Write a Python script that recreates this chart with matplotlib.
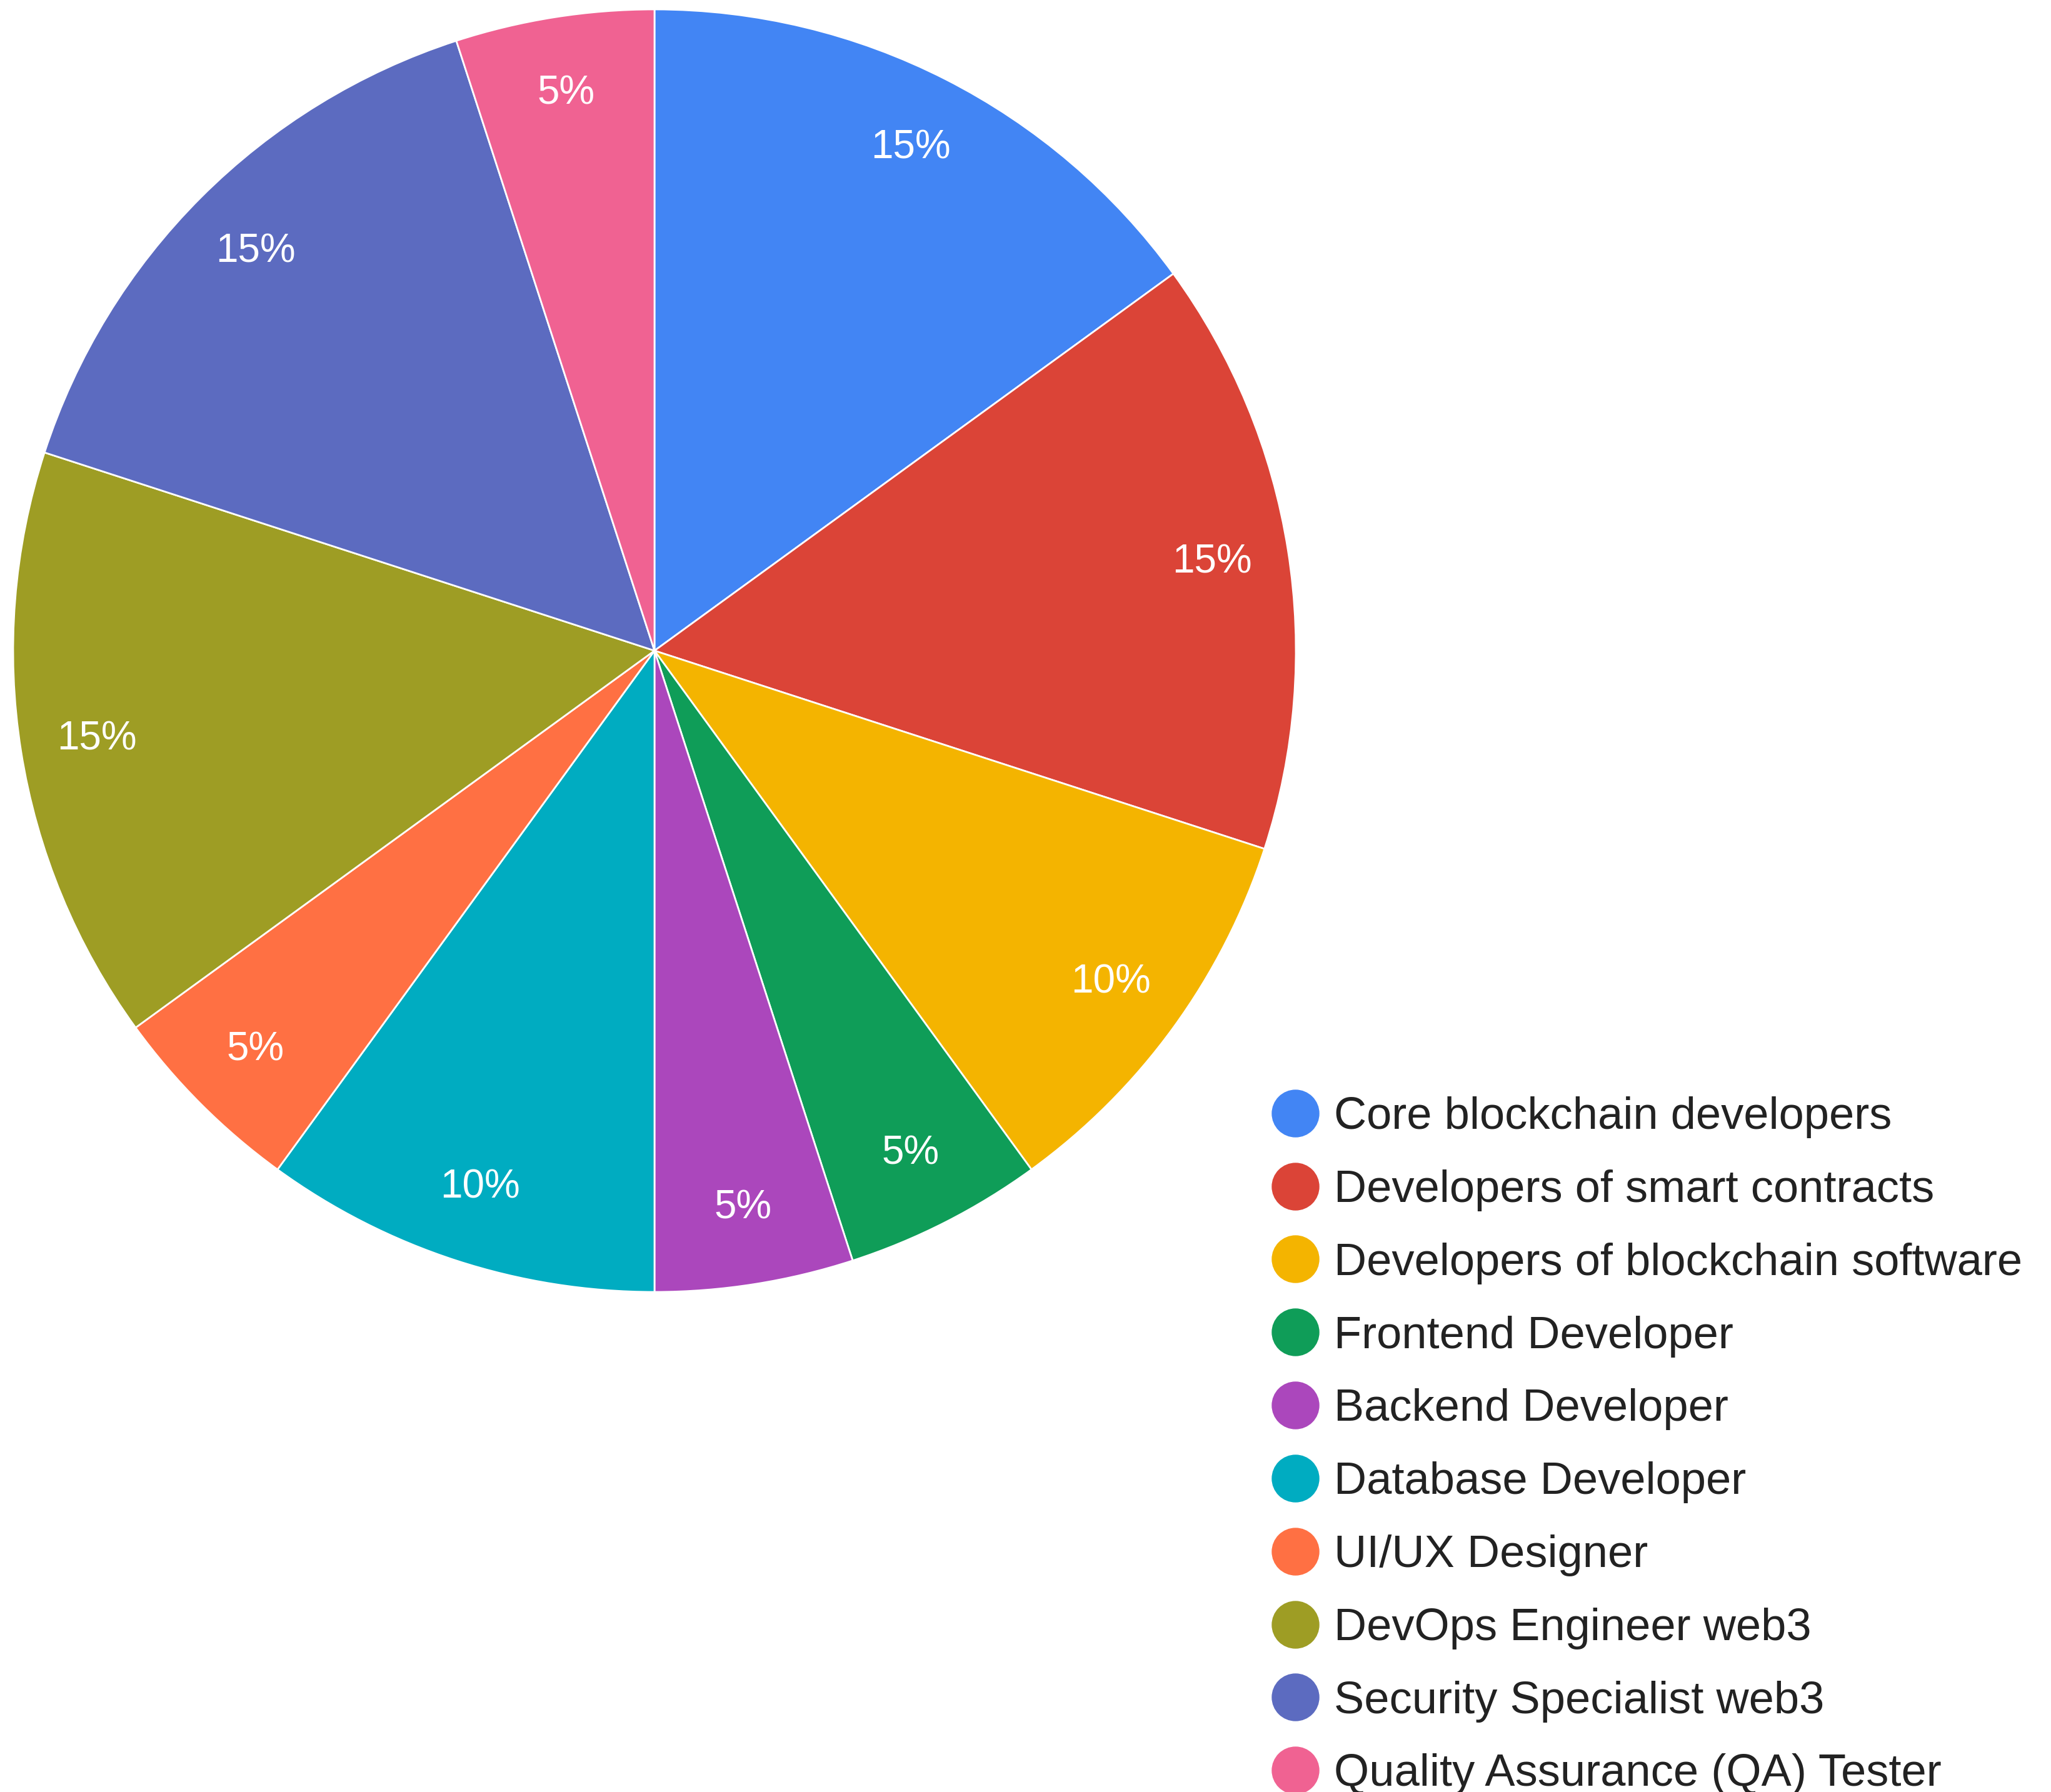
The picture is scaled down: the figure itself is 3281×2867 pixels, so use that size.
import matplotlib
matplotlib.use("Agg")
import matplotlib.pyplot as plt
from matplotlib.lines import Line2D

roles = [
    "Core blockchain developers",
    "Developers of smart contracts",
    "Developers of blockchain software",
    "Frontend Developer",
    "Backend Developer",
    "Database Developer",
    "UI/UX Designer",
    "DevOps Engineer web3",
    "Security Specialist web3",
    "Quality Assurance (QA) Tester",
]
shares = [15, 15, 10, 5, 5, 10, 5, 15, 15, 5]
colors = ["#4285F4", "#DB4437", "#F4B400", "#0F9D58", "#AB47BC",
          "#00ACC1", "#FF7043", "#9E9D24", "#5C6BC0", "#F06292"]

plt.rcParams['font.family'] = ['Liberation Sans', 'DejaVu Sans']

W, H = 3281, 2867
fig = plt.figure(figsize=(W / 100, H / 100), dpi=100)

# pie centre and radius in pixels
cx, cy, r = 1047, 1041, 1026
ax = fig.add_axes([(cx - r) / W, (H - cy - r) / H, 2 * r / W, 2 * r / H])
wedges, texts, autotexts = ax.pie(
    shares, colors=colors, startangle=90, counterclock=False,
    autopct='%d%%', pctdistance=0.88, radius=1,
    wedgeprops=dict(edgecolor='white', linewidth=2),
    textprops=dict(color='white', fontsize=46),
)
ax.set_xlim(-1, 1)
ax.set_ylim(-1, 1)
ax.set_aspect('equal')
ax.axis('off')

handles = [Line2D([], [], marker='o', linestyle='none', markersize=54,
                  markerfacecolor=c, markeredgecolor=c) for c in colors]
fig.legend(handles, roles, loc='upper left',
           bbox_to_anchor=(2034 / W, 1 - 1754 / H),
           frameon=False, fontsize=52, handlelength=1.04,
           handletextpad=0.35, labelspacing=0.69, borderpad=0,
           borderaxespad=0, labelcolor='#222222')

fig.savefig("out.png", dpi=100, facecolor='white')
